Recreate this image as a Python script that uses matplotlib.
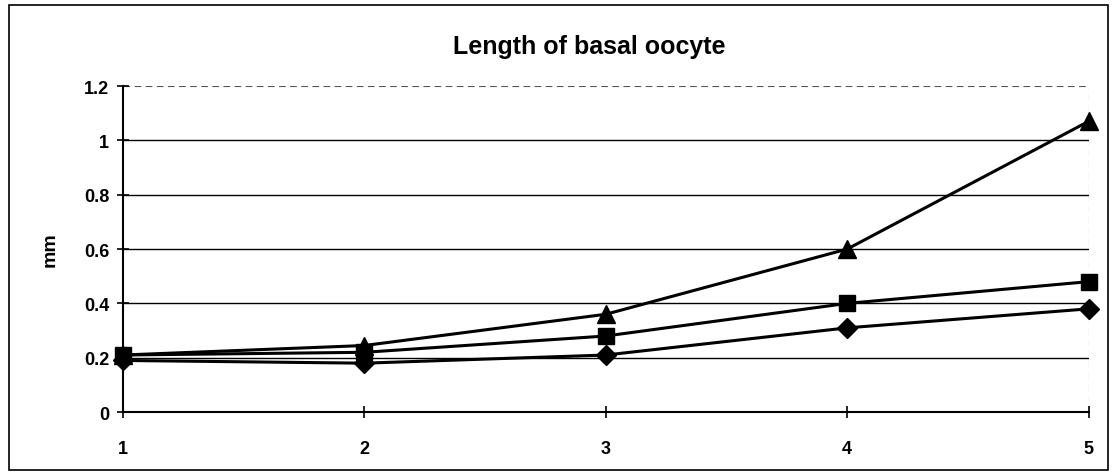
import matplotlib.pyplot as plt
from matplotlib.patches import Rectangle

plt.rcParams['font.family'] = ['Liberation Sans', 'DejaVu Sans']

# data
stage = [1, 2, 3, 4, 5]
diamond_vals = [0.19, 0.18, 0.21, 0.31, 0.38]
square_vals = [0.21, 0.22, 0.28, 0.40, 0.48]
triangle_vals = [0.21, 0.245, 0.36, 0.60, 1.07]
y_ticks = [0, 0.2, 0.4, 0.6, 0.8, 1, 1.2]
y_labels = ["0", "0.2", "0.4", "0.6", "0.8", "1", "1.2"]

fig = plt.figure(figsize=(11.12, 4.77), dpi=100)
ax = fig.add_axes([0.1106, 0.134, 0.979 - 0.1106, 0.8176 - 0.134])

# outer chart border
fig.patches.append(Rectangle((0.008, 0.012), 0.988, 0.975, transform=fig.transFigure,
                             fill=False, edgecolor="black", linewidth=1.2))

for v in y_ticks[1:-1]:
    ax.axhline(v, color="black", linewidth=1.0, zorder=1)
ax.axhline(1.2, color="#555555", linewidth=0.8, linestyle=(0, (6, 4)), zorder=1)
ax.axvline(5, color="#777777", linewidth=0.8, linestyle=(0, (6, 4)), zorder=1)

ax.plot(stage, diamond_vals, color="black", marker="D", markersize=10, linewidth=2.2,
        zorder=3, clip_on=False)
ax.plot(stage, square_vals, color="black", marker="s", markersize=11, linewidth=2.2,
        zorder=3, clip_on=False)
ax.plot(stage, triangle_vals, color="black", marker="^", markersize=13, linewidth=2.2,
        zorder=3, clip_on=False)

ax.set_xlim(1, 5)
ax.set_ylim(0, 1.2)
ax.set_xticks(stage)
ax.set_xticklabels([str(s) for s in stage], fontsize=13, fontweight="bold")
ax.set_yticks(y_ticks)
ax.set_yticklabels(y_labels, fontsize=13, fontweight="bold")
ax.tick_params(axis="both", direction="inout", length=8, width=1.2, color="black")
ax.tick_params(axis="x", pad=16)
ax.tick_params(axis="y", pad=6)

for side in ["top", "right"]:
    ax.spines[side].set_visible(False)
for side in ["left", "bottom"]:
    ax.spines[side].set_linewidth(1.5)
    ax.spines[side].set_color("black")

ax.set_ylabel("mm", fontsize=14, fontweight="bold", labelpad=18)
fig.text(0.53, 0.902, "Length of basal oocyte", ha="center", va="center",
         fontsize=18, fontweight="bold")

for lab in ax.get_xticklabels() + ax.get_yticklabels():
    lab.set_clip_on(False)

fig.savefig("out.png", dpi=100)
